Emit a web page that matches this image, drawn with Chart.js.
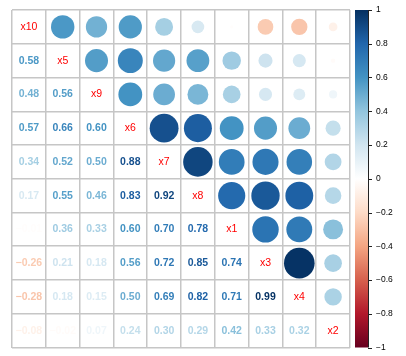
<!DOCTYPE html>
<html>
<head>
<meta charset="utf-8">
<script src="https://cdn.jsdelivr.net/npm/chart.js@4"></script>
<style>
  html, body { margin: 0; padding: 0; background: #fff; overflow: hidden; }
  #wrap { position: relative; width: 406px; height: 356px; }
</style>
</head>
<body>
<div id="wrap"><canvas id="corrChart"></canvas></div>
<script>
'use strict'

// variable order (rows top to bottom, columns left to right)
const variables = ['x10', 'x5', 'x9', 'x6', 'x7', 'x8', 'x1', 'x3', 'x4', 'x2'];

// lower triangle of the correlation matrix, one array per row
const rowX5 = [0.58];
const rowX9 = [0.48, 0.56];
const rowX6 = [0.57, 0.66, 0.60];
const rowX7 = [0.34, 0.52, 0.50, 0.88];
const rowX8 = [0.17, 0.55, 0.46, 0.83, 0.92];
const rowX1 = [-0.01, 0.36, 0.33, 0.60, 0.70, 0.78];
const rowX3 = [-0.26, 0.21, 0.18, 0.56, 0.72, 0.85, 0.74];
const rowX4 = [-0.28, 0.18, 0.15, 0.50, 0.69, 0.82, 0.71, 0.99];
const rowX2 = [-0.08, -0.02, 0.07, 0.24, 0.30, 0.29, 0.42, 0.33, 0.32];

// colour legend ticks
const legendTicks = [-1, -0.8, -0.6, -0.4, -0.2, 0, 0.2, 0.4, 0.6, 0.8, 1];

// RdBu palette, from -1 to 1
const palette = ['#67001F', '#B2182B', '#D6604D', '#F4A582', '#FDDBC7', '#FFFFFF',
                 '#D1E5F0', '#92C5DE', '#4393C3', '#2166AC', '#053061'];

const lower = [[], rowX5, rowX9, rowX6, rowX7, rowX8, rowX1, rowX3, rowX4, rowX2];
const corr = (i, j) => (i > j ? lower[i][j] : lower[j][i]);

function hex2rgb(h) {
  return [parseInt(h.slice(1, 3), 16), parseInt(h.slice(3, 5), 16), parseInt(h.slice(5, 7), 16)];
}
function colorFor(v) {
  const t = (v + 1) / 2 * (palette.length - 1);
  const k = Math.min(Math.floor(t), palette.length - 2);
  const f = t - k;
  const a = hex2rgb(palette[k]), b = hex2rgb(palette[k + 1]);
  const c = a.map((x, n) => Math.round(x + (b[n] - x) * f));
  return 'rgb(' + c.join(',') + ')';
}

// circles in the upper triangle
const circles = [];
for (let i = 0; i < variables.length; i++) {
  for (let j = i + 1; j < variables.length; j++) {
    circles.push({ x: j + 0.5, y: i + 0.5, v: corr(i, j) });
  }
}

function cellSize(chart) {
  const s = chart.scales.x;
  return s.getPixelForValue(1) - s.getPixelForValue(0);
}

const cellText = {
  id: 'cellText',
  afterDatasetsDraw(chart) {
    const ctx = chart.ctx, x = chart.scales.x, y = chart.scales.y;
    ctx.save();
    ctx.textAlign = 'center';
    ctx.textBaseline = 'middle';
    for (let i = 0; i < variables.length; i++) {
      for (let j = 0; j <= i; j++) {
        const px = x.getPixelForValue(j + 0.5), py = y.getPixelForValue(i + 0.5);
        if (i === j) {
          ctx.font = '10.5px "Liberation Sans", Arial, sans-serif';
          ctx.fillStyle = '#FF0000';
          ctx.fillText(variables[i], px, py);
        } else {
          const v = corr(i, j);
          ctx.font = 'bold 10.5px "Liberation Sans", Arial, sans-serif';
          ctx.fillStyle = colorFor(v);
          ctx.fillText(v.toFixed(2).replace('-', '\u2212'), px, py);
        }
      }
    }
    ctx.restore();
  }
};

const colorBar = {
  id: 'colorBar',
  afterDraw(chart) {
    const ctx = chart.ctx, s = chart.scales.y2;
    const x0 = chart.chartArea.right + 5, w = 13;
    const top = s.getPixelForValue(1), bottom = s.getPixelForValue(-1);
    const g = ctx.createLinearGradient(0, bottom, 0, top);
    palette.forEach((c, k) => g.addColorStop(k / (palette.length - 1), c));
    ctx.save();
    ctx.fillStyle = g;
    ctx.fillRect(x0, top, w, bottom - top);
    ctx.strokeStyle = '#222';
    ctx.lineWidth = 1;
    ctx.beginPath();
    ctx.moveTo(x0 + w + 0.5, top);
    ctx.lineTo(x0 + w + 0.5, bottom);
    legendTicks.forEach(v => {
      const py = Math.round(s.getPixelForValue(v)) + 0.5;
      ctx.moveTo(x0 + w, py);
      ctx.lineTo(x0 + w + 4, py);
    });
    ctx.stroke();
    ctx.restore();
  }
};

const gridOpts = { color: '#c6c6c6', lineWidth: 1.5, drawTicks: false };

new Chart(document.getElementById('corrChart').getContext('2d'), {
  type: 'scatter',
  data: {
    datasets: [{
      data: circles,
      pointRadius: c => Math.sqrt(Math.abs(c.raw.v)) * 0.455 * cellSize(c.chart),
      pointHoverRadius: c => Math.sqrt(Math.abs(c.raw.v)) * 0.455 * cellSize(c.chart),
      pointBackgroundColor: c => colorFor(c.raw.v),
      pointBorderWidth: 0,
      pointHoverBorderWidth: 0
    }]
  },
  options: {
    responsive: true,
    maintainAspectRatio: false,
    animation: false,
    events: [],
    layout: { autoPadding: false, padding: { left: 12, top: 10, right: 0, bottom: 8.5 } },
    plugins: { legend: { display: false }, tooltip: { enabled: false } },
    scales: {
      x: {
        type: 'linear', min: 0, max: 10,
        ticks: { display: false, stepSize: 1 },
        afterFit: s => { s.height = 0; },
        grid: gridOpts,
        border: { display: false }
      },
      y: {
        type: 'linear', min: 0, max: 10, reverse: true,
        ticks: { display: false, stepSize: 1 },
        afterFit: s => { s.width = 0; },
        grid: gridOpts,
        border: { display: false }
      },
      y2: {
        type: 'linear', position: 'right', min: -1, max: 1,
        afterBuildTicks: s => { s.ticks = legendTicks.map(v => ({ value: v })); },
        afterFit: s => { s.width = 56; s.paddingTop = 0; s.paddingBottom = 0; },
        ticks: {
          padding: 26,
          color: '#000',
          font: { size: 8.5, family: '"Liberation Sans", Arial, sans-serif' },
          callback: v => String(Number(v.toFixed(1))).replace('-', '\u2212')
        },
        grid: { display: false, drawTicks: false },
        border: { display: false }
      }
    }
  },
  plugins: [cellText, colorBar]
});
</script>
</body>
</html>
